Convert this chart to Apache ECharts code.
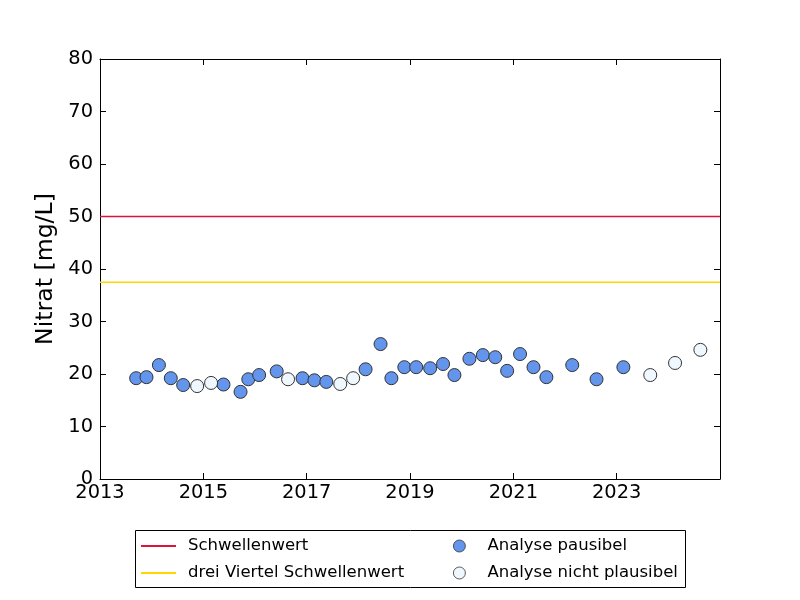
<!DOCTYPE html>
<html><head><meta charset="utf-8">
<script src="https://cdn.jsdelivr.net/npm/echarts@6/dist/echarts.min.js"></script>
<style>html,body{margin:0;padding:0;background:#fff}#c{width:800px;height:600px}</style>
</head><body><div id="c"></div>
<script>
// Sampling dates (decimal years), nitrate values [mg/L], plausibility flag
const dates = [2013.70, 2013.90, 2014.14, 2014.37, 2014.61, 2014.88, 2015.15, 2015.39, 2015.72, 2015.87,
  2016.08, 2016.42, 2016.64, 2016.92, 2017.15, 2017.38, 2017.65, 2017.90, 2018.14, 2018.43,
  2018.64, 2018.89, 2019.12, 2019.39, 2019.64, 2019.86, 2020.15, 2020.41, 2020.65, 2020.88,
  2021.13, 2021.39, 2021.64, 2022.14, 2022.61, 2023.13, 2023.65, 2024.13, 2024.62];
const values = [19.2, 19.4, 21.7, 19.2, 17.9, 17.7, 18.3, 18.0, 16.6, 19.0,
  19.8, 20.5, 19.0, 19.2, 18.8, 18.5, 18.1, 19.2, 20.9, 25.7,
  19.2, 21.3, 21.3, 21.1, 21.9, 19.8, 22.9, 23.6, 23.2, 20.6,
  23.8, 21.3, 19.4, 21.7, 19.0, 21.3, 19.8, 22.1, 24.6];
const plausible = [1,1,1,1,1,0,0,1,1,1,
  1,1,0,1,1,1,0,0,1,1,
  1,1,1,1,1,1,1,1,1,1,
  1,1,1,1,1,1,0,0,0];
const schwellenwert = 50;
const dreiViertel = 37.5;
const xTicks = [2013, 2015, 2017, 2019, 2021, 2023];
const yTicks = [0, 10, 20, 30, 40, 50, 60, 70, 80];

const okData = [], badData = [];
dates.forEach((d, i) => (plausible[i] ? okData : badData).push([d, values[i]]));

const font = 'DejaVu Sans';
const chart = echarts.init(document.getElementById('c'), null, {renderer: 'canvas'});
const axisLine = {show: true, onZero: false, lineStyle: {color: '#000', width: 1}};
const tick = {show: true, inside: true, length: 6, lineStyle: {color: '#000', width: 1}};
chart.setOption({
  animation: false,
  backgroundColor: '#fff',
  textStyle: {fontFamily: font},
  grid: {left: 100, right: 80, top: 59, bottom: 121, containLabel: false},
  xAxis: [{
    type: 'value', min: 2013, max: 2025, interval: 2, position: 'bottom',
    axisLine: axisLine, axisTick: tick, splitLine: {show: false},
    axisLabel: {color: '#000', fontSize: 19.4, fontFamily: font, margin: 4,
      formatter: v => xTicks.includes(v) ? String(v) : ''}
  }, {
    type: 'value', min: 2013, max: 2025, interval: 2, position: 'top',
    axisLine: axisLine, axisTick: tick, splitLine: {show: false}, axisLabel: {show: false}
  }],
  yAxis: [{
    type: 'value', min: 0, max: 80, interval: 10, position: 'left',
    name: 'Nitrat [mg/L]', nameLocation: 'middle', nameGap: 36,
    nameTextStyle: {color: '#000', fontSize: 23.6, fontFamily: font},
    axisLine: axisLine, axisTick: tick, splitLine: {show: false},
    axisLabel: {color: '#000', fontSize: 19.4, fontFamily: font, margin: 7,
      formatter: v => yTicks.includes(v) ? String(v) : ''}
  }, {
    type: 'value', min: 0, max: 80, interval: 10, position: 'right',
    axisLine: axisLine, axisTick: tick, splitLine: {show: false}, axisLabel: {show: false}
  }],
  legend: [{
    orient: 'vertical', left: 141, top: 536, padding: 0, itemGap: 7,
    icon: 'rect', itemWidth: 35, itemHeight: 2,
    textStyle: {color: '#000', fontSize: 16.5, fontFamily: font, lineHeight: 20, padding: [0, 0, 0, 7]},
    data: ['Schwellenwert', 'drei Viertel Schwellenwert']
  }, {
    orient: 'vertical', left: 453, top: 536, padding: 0, itemGap: 7,
    icon: 'circle', itemWidth: 12, itemHeight: 12,
    itemStyle: {borderWidth: 0.8},
    textStyle: {color: '#000', fontSize: 16.5, fontFamily: font, lineHeight: 20, padding: [0, 0, 0, 17]},
    data: ['Analyse pausibel', 'Analyse nicht plausibel']
  }],
  graphic: [{
    type: 'rect', shape: {x: 135.5, y: 530.5, width: 550, height: 57},
    style: {fill: 'none', stroke: '#000', lineWidth: 1}, silent: true
  }],
  series: [{
    name: 'Schwellenwert', type: 'line', color: '#DC143C', symbol: 'none',
    lineStyle: {color: '#DC143C', width: 1.5},
    data: [[2013, schwellenwert], [2025, schwellenwert]], z: 1
  }, {
    name: 'drei Viertel Schwellenwert', type: 'line', color: '#FFD700', symbol: 'none',
    lineStyle: {color: '#FFD700', width: 1.5},
    data: [[2013, dreiViertel], [2025, dreiViertel]], z: 1
  }, {
    name: 'Analyse pausibel', type: 'scatter', symbol: 'circle', symbolSize: 13,
    itemStyle: {color: '#6495ED', borderColor: '#333', borderWidth: 1, opacity: 1},
    data: okData, z: 3
  }, {
    name: 'Analyse nicht plausibel', type: 'scatter', symbol: 'circle', symbolSize: 13,
    itemStyle: {color: '#F0F8FF', borderColor: '#333', borderWidth: 1, opacity: 1},
    data: badData, z: 3
  }]
});
</script></body></html>
